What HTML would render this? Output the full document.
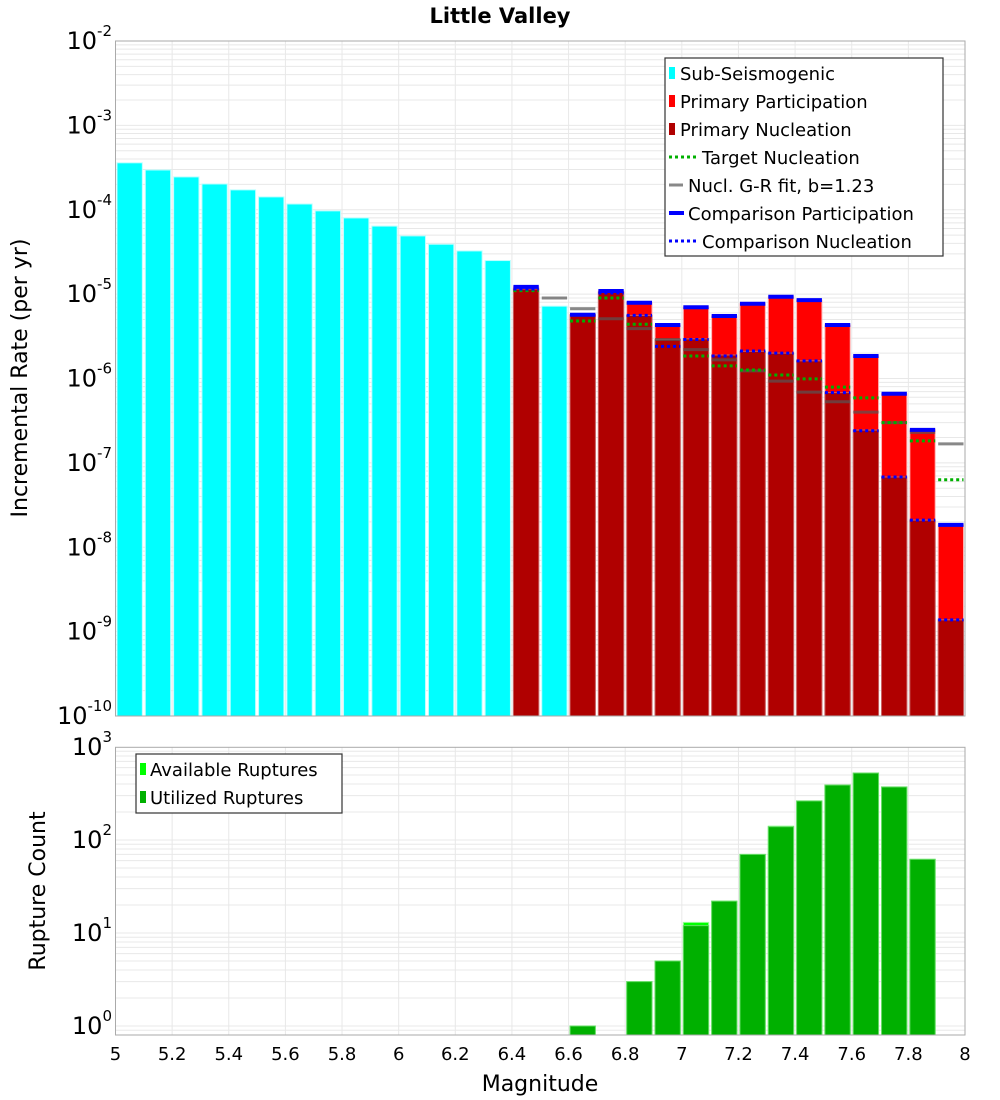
<!DOCTYPE html>
<html><head><meta charset="utf-8"><style>
html,body{margin:0;padding:0;background:#fff;}
svg{display:block;font-family:"DejaVu Sans","Liberation Sans",sans-serif;}
</style></head><body>
<svg id="chart" width="1000" height="1100" viewBox="0 0 1000 1100" xmlns="http://www.w3.org/2000/svg">
<text x="500" y="23" text-anchor="middle" font-size="21" font-weight="bold">Little Valley</text>
<g id="topPanel"></g>
<g id="botPanel"></g>
<text transform="translate(27,378) rotate(-90)" text-anchor="middle" font-size="22">Incremental Rate (per yr)</text>
<text transform="translate(45,891) rotate(-90)" text-anchor="middle" font-size="22">Rupture Count</text>
<text x="540" y="1091" text-anchor="middle" font-size="22">Magnitude</text>
</svg>
<script>
// ---- data ----
const subMags = [5.0,5.1,5.2,5.3,5.4,5.5,5.6,5.7,5.8,5.9,6.0,6.1,6.2,6.3,6.5];
const subRates = [3.6e-4,2.96e-4,2.45e-4,2.02e-4,1.72e-4,1.42e-4,1.17e-4,9.7e-5,8.0e-5,6.4e-5,4.9e-5,3.9e-5,3.25e-5,2.5e-5,7.2e-6];
const primMags = [6.4,6.6,6.7,6.8,6.9,7.0,7.1,7.2,7.3,7.4,7.5,7.6,7.7,7.8,7.9];
const partRates = [1.22e-5,5.7e-6,1.09e-5,7.9e-6,4.3e-6,7.0e-6,5.5e-6,7.7e-6,9.3e-6,8.5e-6,4.3e-6,1.85e-6,6.6e-7,2.46e-7,1.84e-8];
const nuclRates = [1.15e-5,5.7e-6,1.06e-5,5.6e-6,2.9e-6,2.95e-6,1.9e-6,2.1e-6,2.0e-6,1.62e-6,6.8e-7,2.45e-7,6.8e-8,2.1e-8,1.38e-9];
const compPart = [1.22e-5,5.7e-6,1.09e-5,7.9e-6,4.3e-6,7.0e-6,5.5e-6,7.7e-6,9.3e-6,8.5e-6,4.3e-6,1.85e-6,6.6e-7,2.46e-7,1.84e-8];
const compNucl = [1.15e-5,5.7e-6,1.03e-5,5.6e-6,2.4e-6,2.9e-6,1.85e-6,2.12e-6,2.0e-6,1.62e-6,6.8e-7,2.4e-7,6.8e-8,2.1e-8,1.38e-9];
const targetMags = [6.4,6.6,6.7,6.8,7.0,7.1,7.2,7.3,7.4,7.5,7.6,7.7,7.8,7.9];
const targetNucl = [1.1e-5,4.8e-6,9.0e-6,4.4e-6,1.85e-6,1.41e-6,1.26e-6,1.1e-6,9.9e-7,7.9e-7,5.9e-7,3.0e-7,1.82e-7,6.3e-8];
const grMags = [6.5,6.6,6.7,6.8,6.9,7.0,7.1,7.2,7.3,7.4,7.5,7.6,7.7,7.8,7.9];
const grRates = [9.0e-6,6.7e-6,5.1e-6,3.9e-6,2.9e-6,2.2e-6,1.66e-6,1.23e-6,9.3e-7,6.9e-7,5.3e-7,4.0e-7,3.0e-7,2.3e-7,1.68e-7];
const cntMags = [6.6,6.8,6.9,7.0,7.1,7.2,7.3,7.4,7.5,7.6,7.7,7.8];
const availCounts = [1,3,5,13,22,70,141,263,390,525,372,62];
const usedCounts = [1,3,5,12,22,70,139,263,390,525,372,62];
const xTicks = [5,5.2,5.4,5.6,5.8,6,6.2,6.4,6.6,6.8,7,7.2,7.4,7.6,7.8,8];
const topDecades = [-2,-3,-4,-5,-6,-7,-8,-9,-10];
const botDecades = [3,2,1,0];

// ---- axes ----
const NS='http://www.w3.org/2000/svg';
const X0=115.5,X1=965;
const xs=m=>X0+(m-5)/3*(X1-X0);
const T0=41,T1=716; const yT=v=>T0+(-2-Math.log10(v))/8*(T1-T0);
const B0=747.3,BD=93; const yB=v=>1026-Math.log10(v)*BD; const B1=1035;
function el(parent,tag,attrs){const e=document.createElementNS(NS,tag);for(const k in attrs)e.setAttribute(k,attrs[k]);parent.appendChild(e);return e;}
const topG=document.getElementById('topPanel'),botG=document.getElementById('botPanel');

for(const d of topDecades){
  for(let k=1;k<10;k++){const v=k*Math.pow(10,d);const yy=yT(v);if(yy<T0-0.5||yy>T1+0.5)continue;
    const g=el(topG,'line',{x1:X0,x2:X1,y1:yy,y2:yy,stroke:'#e8e8e8','stroke-width':1});
    
    }
}
for(const t of xTicks){const g=el(topG,'line',{x1:xs(t),x2:xs(t),y1:T0,y2:T1,stroke:'#e8e8e8'});
  
  }
for(let d=-1;d<3;d++){for(let k=1;k<10;k++){const v=k*Math.pow(10,d);const yy=yB(v);if(yy<B0-0.5||yy>B1+0.5)continue;
  const g=el(botG,'line',{x1:X0,x2:X1,y1:yy,y2:yy,stroke:'#e8e8e8'});
  
  }}
for(const t of xTicks){const g=el(botG,'line',{x1:xs(t),x2:xs(t),y1:B0,y2:B1,stroke:'#e8e8e8'});
  
  }

function bar(parent,m,v,yf,base,fill,stroke,name){
  const xa=xs(m)+1.5,xb=xs(m+0.1)-1.5,yy=yf(v);
  const r=el(parent,'rect',{x:xa,y:yy,width:xb-xa,height:Math.max(0,base-yy),fill:fill,stroke:stroke,'stroke-width':1});
  
  
}
function seg(parent,m,v,color,w,dash,name,op){
  const yy=yT(v);
  const a={x1:xs(m)+1.5,x2:xs(m+0.1)-1.5,y1:yy,y2:yy,stroke:color,'stroke-width':w};
  if(dash)a['stroke-dasharray']=dash; if(op)a['stroke-opacity']=op;
  const l=el(parent,'line',a);
  
  
}
subMags.forEach((m,i)=>bar(topG,m,subRates[i],yT,T1,'#00ffff','#bff','sub-seismogenic-bar'));
primMags.forEach((m,i)=>bar(topG,m,partRates[i],yT,T1,'#ff0000','#ffb0b0','primary-participation-bar'));
primMags.forEach((m,i)=>bar(topG,m,nuclRates[i],yT,T1,'#b00000','#c86060','primary-nucleation-bar'));
grMags.forEach((m,i)=>seg(topG,m,grRates[i],'#555',3,null,'gr-fit-segment',0.7));
primMags.forEach((m,i)=>seg(topG,m,compPart[i],'#0000ff',4,null,'comparison-participation-segment'));
targetMags.forEach((m,i)=>seg(topG,m,targetNucl[i],'#00b000',3,'3,3','target-nucleation-segment'));
primMags.forEach((m,i)=>seg(topG,m,compNucl[i],'#0000ff',3,'3,3','comparison-nucleation-segment'));

cntMags.forEach((m,i)=>bar(botG,m,availCounts[i],yB,B1,'#00ff00','#9f9','available-ruptures-bar'));
cntMags.forEach((m,i)=>bar(botG,m,usedCounts[i],yB,B1,'#00b000','#6d6','utilized-ruptures-bar'));

el(topG,'rect',{x:X0,y:T0,width:X1-X0,height:T1-T0,fill:'none',stroke:'#aaa'});
el(botG,'rect',{x:X0,y:B0,width:X1-X0,height:B1-B0,fill:'none',stroke:'#aaa'});

function sup(parent,yy,base,exp,name){
  const t=el(parent,'text',{x:112,y:yy+8,'text-anchor':'end','font-size':24});
  
  
  t.innerHTML=base+'<tspan dy="-13" font-size="15">'+exp+'</tspan>';
}
topDecades.forEach(d=>sup(topG,yT(Math.pow(10,d)),'10',d,'y-tick-label'));
botDecades.forEach(d=>sup(botG,yB(Math.pow(10,d)),'10',d,'y-tick-label-count'));
xTicks.forEach(t=>{const tx=el(botG,'text',{x:xs(t),y:1060,'text-anchor':'middle','font-size':18});
  
  
  tx.textContent=String(t);});

function legend(parent,bx,by,bw,bh,items,name){
  const g=el(parent,'g',{});
  
  
  el(g,'rect',{x:bx,y:by,width:bw,height:bh,fill:'#fff',stroke:'#333','stroke-width':1.2});
  items.forEach((it,i)=>{const yy=by+15+i*28;
    const e=el(g,'g',{});
    
    
    if(it.type==='box')el(e,'rect',{x:bx+4,y:yy-6,width:6,height:12,fill:it.c});
    else{const a={x1:bx+4,x2:bx+it.len,y1:yy,y2:yy,stroke:it.c,'stroke-width':it.w||3};if(it.dash)a['stroke-dasharray']=it.dash;el(e,'line',a);}
    const t=el(e,'text',{x:bx+it.tx,y:yy+7,'font-size':18});t.textContent=it.label;});
}
legend(topG,665,58,278,198,[
 {type:'box',c:'#00ffff',label:'Sub-Seismogenic',tx:15},
 {type:'box',c:'#ff0000',label:'Primary Participation',tx:15},
 {type:'box',c:'#b00000',label:'Primary Nucleation',tx:15},
 {type:'line',c:'#00b000',dash:'3,3',len:34,label:'Target Nucleation',tx:37},
 {type:'line',c:'#888',len:18,label:'Nucl. G-R fit, b=1.23',tx:23},
 {type:'line',c:'#0000ff',w:4,len:19,label:'Comparison Participation',tx:23},
 {type:'line',c:'#0000ff',dash:'3,3',len:34,label:'Comparison Nucleation',tx:37}
],'rate-legend');
legend(botG,136,754,206,59,[
 {type:'box',c:'#00ff00',label:'Available Ruptures',tx:14},
 {type:'box',c:'#00b000',label:'Utilized Ruptures',tx:14}
],'count-legend');
</script>
</body></html>
